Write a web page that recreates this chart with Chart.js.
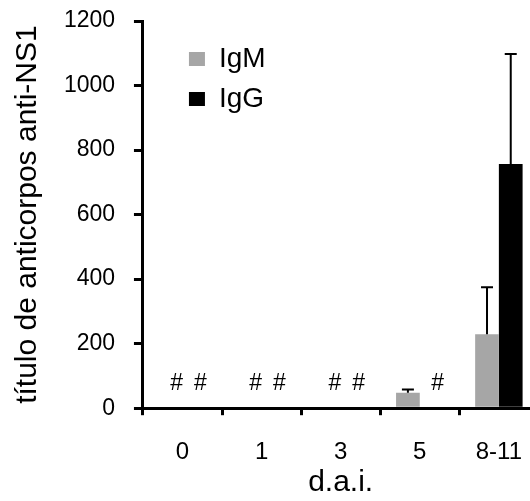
<!DOCTYPE html>
<html>
<head>
<meta charset="utf-8">
<script src="https://cdn.jsdelivr.net/npm/chart.js@4"></script>
<style>
  html, body { margin: 0; padding: 0; background: #fff; overflow: hidden; }
  #wrap { width: 545px; height: 501px; }
</style>
</head>
<body>
<div id="wrap"><canvas id="titulos" width="545" height="501"></canvas></div>
<script>
var dias = ["0", "1", "3", "5", "8-11"];
var igm = [0, 0, 0, 48, 229];
var igmErro = [0, 0, 0, 10, 146];
var igg = [0, 0, 0, 0, 757];
var iggErro = [0, 0, 0, 0, 341];
// "#" = não detectado
var igmMarca = ["#", "#", "#", "", ""];
var iggMarca = ["#", "#", "#", "#", ""];
var yTicks = [0, 200, 400, 600, 800, 1000, 1200];

var erros = [igmErro, iggErro];
var marcas = [igmMarca, iggMarca];

// barras de erro (só para cima) e os "#"
var barrasErro = {
  id: 'barrasErro',
  afterDatasetsDraw: function(chart) {
    var ctx = chart.ctx;
    var y = chart.scales.y;
    ctx.save();
    ctx.strokeStyle = '#000';
    ctx.lineWidth = 2;
    chart.data.datasets.forEach(function(ds, i) {
      chart.getDatasetMeta(i).data.forEach(function(bar, j) {
        var e = erros[i][j];
        if (!e) return;
        var topo = y.getPixelForValue(ds.data[j] + e);
        ctx.beginPath();
        ctx.moveTo(bar.x, bar.y);
        ctx.lineTo(bar.x, topo);
        ctx.moveTo(bar.x - 6, topo);
        ctx.lineTo(bar.x + 6, topo);
        ctx.stroke();
      });
    });

    ctx.fillStyle = '#000';
    ctx.font = '23px "Liberation Sans", Arial, sans-serif';
    ctx.textAlign = 'center';
    ctx.textBaseline = 'alphabetic';
    var base = y.getPixelForValue(0) - 18;
    chart.data.datasets.forEach(function(ds, i) {
      chart.getDatasetMeta(i).data.forEach(function(bar, j) {
        if (marcas[i][j]) ctx.fillText(marcas[i][j], bar.x + 6, base);
      });
    });
    ctx.restore();
  }
};

// legenda dentro do gráfico, afastada do eixo
var legendaPos = {
  id: 'legendaPos',
  afterLayout: function(chart) {
    var lg = chart.legend;
    var ca = chart.chartArea;
    lg.left = ca.left + 34; lg.right = lg.left + lg.width;
    lg.top = ca.top + 12; lg.bottom = lg.top + lg.height;
  }
};

Chart.defaults.font.family = '"Liberation Sans", Arial, sans-serif';
Chart.defaults.color = '#000';

new Chart(document.getElementById('titulos'), {
  type: 'bar',
  data: {
    labels: dias,
    datasets: [
      { label: 'IgM', data: igm, backgroundColor: '#a6a6a6', borderColor: '#a6a6a6', borderWidth: 0 },
      { label: 'IgG', data: igg, backgroundColor: '#000', borderColor: '#000', borderWidth: 0 }
    ]
  },
  options: {
    responsive: false,
    animation: false,
    events: [],
    layout: { padding: { left: 10, top: 21, right: 0, bottom: 0 } },
    datasets: { bar: { barPercentage: 1, categoryPercentage: 0.6 } },
    plugins: {
      legend: {
        position: 'chartArea',
        align: 'start',
        labels: { font: { size: 28 }, boxWidth: 16, boxHeight: 14, padding: 12 }
      },
      tooltip: { enabled: false }
    },
    scales: {
      x: {
        grid: { display: true, drawOnChartArea: false, tickLength: 7, lineWidth: 3, color: '#000', offset: true },
        border: { display: true, color: '#000', width: 3 },
        ticks: { font: { size: 24 }, padding: 23, maxRotation: 0 },
        title: { display: true, text: 'd.a.i.', font: { size: 30 }, padding: { top: -25, bottom: 0 } }
      },
      y: {
        min: 0,
        max: 1200,
        afterBuildTicks: function(axis) {
          axis.ticks = yTicks.map(function(v) { return { value: v }; });
        },
        grid: { display: true, drawOnChartArea: false, tickLength: 9, tickWidth: 3, tickColor: '#000', lineWidth: 3, color: '#000' },
        border: { display: true, color: '#000', width: 3 },
        ticks: {
          font: { size: 23 },
          padding: 6,
          // espaços no fim afastam o número do eixo sem aumentar o padding (que empurra o topo)
          callback: function(v) { return v + '  '; }
        },
        title: { display: true, text: 'título de anticorpos anti-NS1', font: { size: 30 }, padding: { top: 0, bottom: 12 } }
      }
    }
  },
  plugins: [barrasErro, legendaPos]
});
</script>
</body>
</html>
